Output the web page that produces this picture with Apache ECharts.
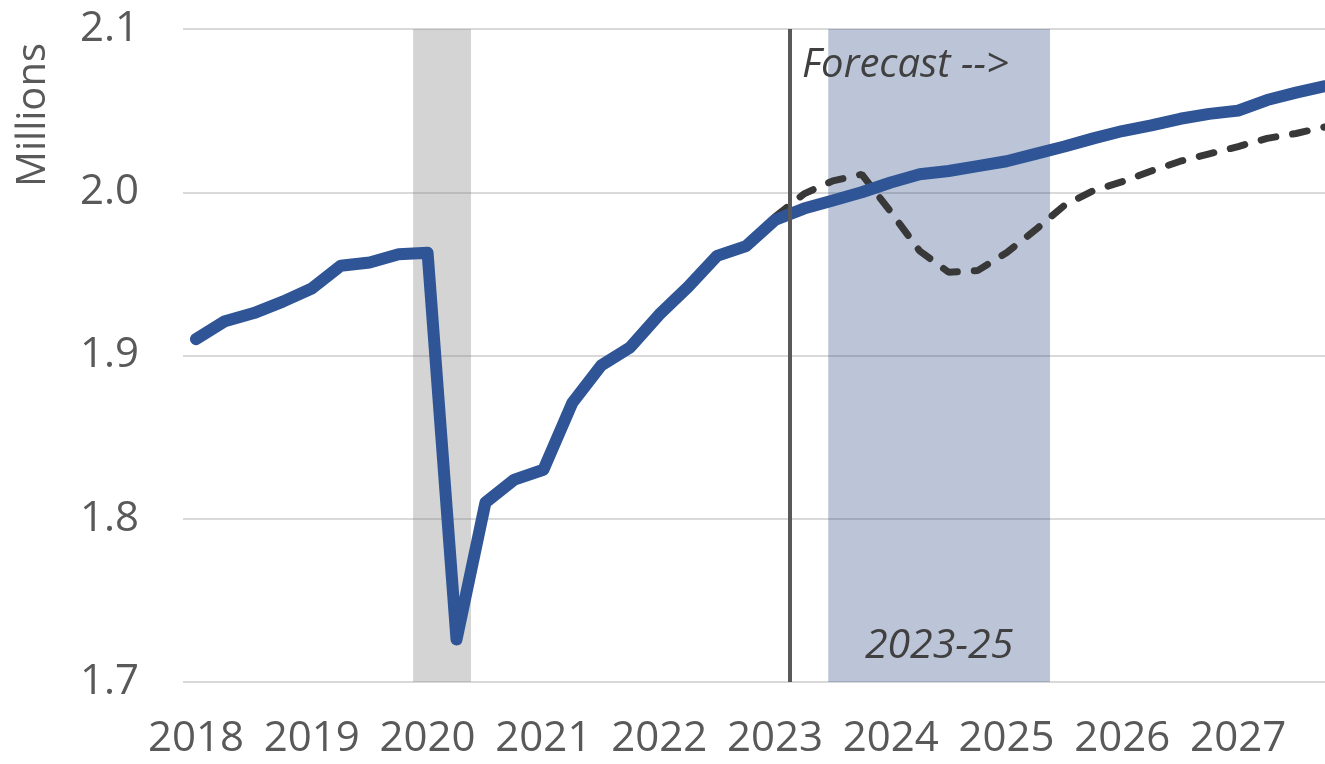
<!DOCTYPE html>
<html>
<head>
<meta charset="utf-8">
<script src="https://cdn.jsdelivr.net/npm/echarts@6/dist/echarts.min.js"></script>
<style>
  html, body { margin: 0; padding: 0; background: #fff; }
  #main { width: 1325px; height: 764px; }
</style>
</head>
<body>
<div id="main"></div>
<script>
// quarterly series, 2018Q1 .. 2027Q4 (millions)
const quarters = []
for (let y = 2018; y <= 2027; y++) {
  for (let q = 1; q <= 4; q++) quarters.push(y + 'Q' + q)
}
const yearTicks = [2018, 2019, 2020, 2021, 2022, 2023, 2024, 2025, 2026, 2027]

const baseline = [
  1.910, 1.921, 1.926, 1.933, 1.941, 1.955, 1.957, 1.962,
  1.963, 1.726, 1.810, 1.824, 1.830, 1.871, 1.894, 1.905,
  1.925, 1.942, 1.961, 1.967, 1.983, 1.990, 1.995, 2.000,
  2.006, 2.011, 2.013, 2.016, 2.019, 2.0235, 2.028, 2.033,
  2.0375, 2.041, 2.045, 2.048, 2.050, 2.0565, 2.061, 2.065
]
// alternative scenario starts at 2023Q1
const scenarioStart = 20
const scenario = [
  1.985, 1.999, 2.007, 2.011, 1.988, 1.964, 1.951, 1.952,
  1.963, 1.977, 1.992, 2.001, 2.0065, 2.013, 2.019, 2.0235,
  2.028, 2.033, 2.036, 2.040
]

const recession = [2019.875, 2020.375]
const forecastBand = [2023.46, 2025.375]
const forecastStart = 2023.125

function qToYear(label) {
  return +label.slice(0, 4) + (+label.slice(5) - 1) / 4
}

const TEXT = '#595959'
const FONT = '"Open Sans", sans-serif'

const chart = echarts.init(document.getElementById('main'))
const option = {
  animation: false,
  backgroundColor: '#fff',
  grid: { left: 183, right: 0, top: 29, bottom: 82 },
  xAxis: {
    type: 'value',
    min: 2017.888,
    max: 2027.75,
    axisLine: { show: false },
    axisTick: { show: false },
    splitLine: { show: false },
    axisLabel: {
      customValues: yearTicks,
      color: TEXT,
      fontFamily: FONT,
      fontSize: 42,
      margin: 36,
      formatter: v => String(v),
    },
  },
  yAxis: {
    type: 'value',
    min: 1.7,
    max: 2.1,
    interval: 0.1,
    axisLine: { show: false },
    axisTick: { show: false },
    splitLine: { lineStyle: { color: '#d9d9d9', width: 2 } },
    axisLabel: {
      color: TEXT,
      fontFamily: FONT,
      fontSize: 42,
      margin: 44,
      formatter: v => v.toFixed(1),
    },
  },
  graphic: [
    {
      type: 'text',
      x: 34, y: 115,
      rotation: Math.PI / 2,
      style: {
        text: 'Millions',
        fill: TEXT,
        font: '40px "Open Sans"',
        align: 'center',
        verticalAlign: 'middle',
      },
    },
    {
      type: 'text',
      left: 802, top: 46,
      z: 10,
      style: {
        text: 'Forecast -->',
        fill: '#404040',
        font: 'italic 40px "Open Sans"',
      },
    },
  ],
  series: [
    {
      name: 'bands',
      type: 'line',
      data: [],
      markArea: {
        silent: true,
        data: [
          [
            { xAxis: recession[0], itemStyle: { color: 'rgba(128,128,128,0.34)' } },
            { xAxis: recession[1] },
          ],
          [
            {
              xAxis: forecastBand[0],
              itemStyle: { color: 'rgba(47,75,130,0.32)' },
              label: {
                show: true,
                position: 'insideBottom',
                distance: 15,
                formatter: '2023-25',
                color: '#404040',
                fontFamily: FONT,
                fontStyle: 'italic',
                fontSize: 41,
              },
            },
            { xAxis: forecastBand[1] },
          ],
        ],
      },
      markLine: {
        silent: true,
        symbol: 'none',
        label: { show: false },
        lineStyle: { color: '#595959', width: 4, type: 'solid' },
        data: [{ xAxis: forecastStart }],
      },
    },
    {
      name: 'Scenario',
      type: 'line',
      z: 3,
      showSymbol: false,
      data: scenario.map((v, i) => [qToYear(quarters[scenarioStart + i]), v]),
      lineStyle: {
        color: '#383838',
        width: 7,
        type: [15, 17],
        cap: 'round',
      },
    },
    {
      name: 'Baseline',
      type: 'line',
      z: 4,
      showSymbol: false,
      data: baseline.map((v, i) => [qToYear(quarters[i]), v]),
      lineStyle: {
        color: '#2f5597',
        width: 12,
        cap: 'round',
        join: 'round',
      },
    },
  ],
}
chart.setOption(option)
</script>
</body>
</html>
